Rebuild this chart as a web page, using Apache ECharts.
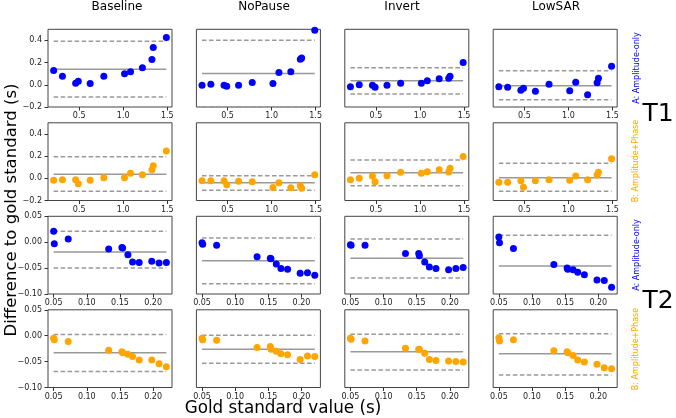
<!DOCTYPE html>
<html>
<head>
<meta charset="utf-8">
<title>Difference to gold standard</title>
<script src="https://cdn.jsdelivr.net/npm/echarts@6/dist/echarts.min.js"></script>
<style>
  html, body { margin: 0; padding: 0; background: #fff; }
  #chart { width: 676px; height: 418px; }
</style>
</head>
<body>
<div id="chart"></div>
<script>
// column titles
const methods = ["Baseline", "NoPause", "Invert", "LowSAR"];

// gold standard values (s)
const t1Gold = [0.21, 0.31, 0.46, 0.49, 0.625, 0.78, 1.015, 1.083, 1.218, 1.326, 1.341, 1.49];
const t2Gold = [0.050, 0.051, 0.072, 0.133, 0.153, 0.154, 0.162, 0.169, 0.179, 0.198, 0.209, 0.220];

// differences, one list per method (Baseline, NoPause, Invert, LowSAR)
const t1AmpOnly = [
  [0.129, 0.077, 0.013, 0.033, 0.011, 0.076, 0.099, 0.117, 0.153, 0.228, 0.336, 0.426],
  [-0.005, 0.004, -0.005, -0.014, -0.003, 0.021, 0.012, 0.111, 0.117, 0.231, 0.242, 0.491],
  [-0.018, 0.0, -0.003, -0.023, -0.005, 0.015, 0.013, 0.036, 0.054, 0.060, 0.078, 0.201],
  [-0.018, -0.023, -0.048, -0.030, -0.059, 0.005, -0.054, 0.022, -0.090, 0.018, 0.060, 0.168]
];
const t1AmpPhase = [
  [-0.018, -0.012, -0.012, -0.048, -0.018, 0.006, 0.006, 0.045, 0.033, 0.078, 0.114, 0.246],
  [-0.021, -0.021, -0.021, -0.059, -0.027, -0.032, -0.083, -0.039, -0.086, -0.066, -0.090, 0.031],
  [-0.012, 0.0, 0.021, -0.030, 0.024, 0.054, 0.045, 0.060, 0.078, 0.057, 0.090, 0.197],
  [-0.036, -0.036, -0.021, -0.081, -0.021, -0.012, -0.018, 0.021, -0.012, 0.030, 0.054, 0.177]
];
const t2AmpOnly = [
  [0.021, -0.003, 0.006, -0.013, -0.010, -0.011, -0.024, -0.038, -0.039, -0.037, -0.040, -0.039],
  [-0.001, -0.004, -0.006, -0.028, -0.031, -0.032, -0.042, -0.051, -0.052, -0.060, -0.059, -0.064],
  [-0.005, -0.006, -0.006, -0.022, -0.022, -0.026, -0.038, -0.048, -0.051, -0.053, -0.051, -0.049],
  [0.010, -0.001, -0.012, -0.043, -0.050, -0.052, -0.053, -0.058, -0.063, -0.073, -0.074, -0.087]
];
const t2AmpPhase = [
  [-0.005, -0.008, -0.011, -0.028, -0.031, -0.033, -0.036, -0.040, -0.047, -0.047, -0.054, -0.060],
  [-0.005, -0.008, -0.009, -0.023, -0.021, -0.026, -0.030, -0.035, -0.037, -0.046, -0.039, -0.040],
  [-0.005, -0.007, -0.010, -0.024, -0.026, -0.026, -0.034, -0.046, -0.048, -0.049, -0.050, -0.051],
  [-0.004, -0.010, -0.008, -0.029, -0.031, -0.033, -0.038, -0.047, -0.051, -0.055, -0.062, -0.064]
];

// mean difference and limits of agreement, row by row (T1 A, T1 B, T2 A, T2 B)
const meanDiff = [
  [0.141, 0.102, 0.036, -0.009],
  [0.036, -0.041, 0.051, 0.006],
  [-0.019, -0.036, -0.031, -0.046],
  [-0.033, -0.026, -0.031, -0.035]
];
const upperLoA = [
  [0.392, 0.401, 0.153, 0.126],
  [0.195, 0.024, 0.165, 0.135],
  [0.021, 0.008, 0.006, 0.0135],
  [0.0025, 0.001, 0.003, 0.004]
];
const lowerLoA = [
  [-0.110, -0.197, -0.083, -0.135],
  [-0.117, -0.108, -0.066, -0.117],
  [-0.050, -0.080, -0.069, -0.105],
  [-0.069, -0.053, -0.066, -0.076]
];

// tick labels
const t1XTicks = [0.5, 1.0, 1.5];
const t2XTicks = [0.05, 0.10, 0.15, 0.20];
const t1YTicks = [-0.2, 0.0, 0.2, 0.4];
const t2YTicks = [-0.10, -0.05, 0.00, 0.05];

const BLUE = "#0000ff";
const ORANGE = "#ffa500";
const FONT = "DejaVu Sans";

const lefts = [48, 196.4, 344.8, 493.2];
const tops = [29.3, 122.8, 216.3, 309.8];
const W = 124, H = 77.7;

const rows = [
  { gold: t1Gold, diffs: t1AmpOnly, color: BLUE, xr: [0.146, 1.554], yr: [-0.2, 0.5], xt: t1XTicks, yt: t1YTicks, xd: 1, yd: 1 },
  { gold: t1Gold, diffs: t1AmpPhase, color: ORANGE, xr: [0.146, 1.554], yr: [-0.2, 0.5], xt: t1XTicks, yt: t1YTicks, xd: 1, yd: 1 },
  { gold: t2Gold, diffs: t2AmpOnly, color: BLUE, xr: [0.0415, 0.2285], yr: [-0.10, 0.05], xt: t2XTicks, yt: t2YTicks, xd: 2, yd: 2 },
  { gold: t2Gold, diffs: t2AmpPhase, color: ORANGE, xr: [0.0415, 0.2285], yr: [-0.10, 0.05], xt: t2XTicks, yt: t2YTicks, xd: 2, yd: 2 }
];

const fmt = d => v => (v < -1e-9 ? "\u2212" : "") + Math.abs(v).toFixed(d);

const grids = [], xAxes = [], yAxes = [], series = [];

rows.forEach((r, ri) => {
  const xMin = Math.min(...r.gold), xMax = Math.max(...r.gold);
  methods.forEach((m, ci) => {
    const gi = ri * 4 + ci;
    grids.push({
      left: lefts[ci], top: tops[ri], width: W, height: H,
      show: true, borderColor: "#444", borderWidth: 1, backgroundColor: "rgba(0,0,0,0)"
    });
    xAxes.push({
      gridIndex: gi, type: "value", min: r.xr[0], max: r.xr[1], position: "bottom",
      axisLine: { show: false, onZero: false }, splitLine: { show: false },
      axisTick: { show: true, length: 3.5, lineStyle: { color: "#333" }, customValues: r.xt },
      axisLabel: {
        customValues: r.xt, formatter: fmt(r.xd), fontSize: 8, color: "#222", margin: 5, fontFamily: FONT,
        showMinLabel: true, showMaxLabel: true, hideOverlap: false
      }
    });
    yAxes.push({
      gridIndex: gi, type: "value", min: r.yr[0], max: r.yr[1], position: "left",
      axisLine: { show: false, onZero: false }, splitLine: { show: false },
      axisTick: { show: ci === 0, length: 3.5, lineStyle: { color: "#333" }, customValues: r.yt },
      axisLabel: {
        show: ci === 0, customValues: r.yt, formatter: fmt(r.yd), fontSize: 8, color: "#222", margin: 6, fontFamily: FONT,
        showMinLabel: true, showMaxLabel: true, hideOverlap: false
      }
    });
    [[upperLoA[ri][ci], [4.5, 2.5]], [lowerLoA[ri][ci], [4.5, 2.5]], [meanDiff[ri][ci], "solid"]].forEach(([v, t]) => {
      series.push({
        type: "line", xAxisIndex: gi, yAxisIndex: gi, silent: true, symbol: "none", z: 2,
        data: [[xMin, v], [xMax, v]],
        lineStyle: { color: "#999", width: 1.5, type: t }
      });
    });
    series.push({
      type: "scatter", xAxisIndex: gi, yAxisIndex: gi, silent: true, z: 3,
      symbolSize: 7, itemStyle: { color: r.color, opacity: 1 },
      data: r.gold.map((g, k) => [g, r.diffs[ci][k]])
    });
  });
});

const titleX = [117, 264, 402, 556];
const txt = (text, x, y, size, color, rot) => ({
  type: "text", x, y, rotation: rot || 0, silent: true,
  style: { text, fill: color || "#000", font: size + "px '" + FONT + "'", textAlign: "center", textVerticalAlign: "middle" }
});

const graphic = [
  ...methods.map((m, i) => txt(m, titleX[i], 7, 12)),
  txt("Difference to gold standard (s)", 12, 210, 16.5, "#000", Math.PI / 2),
  txt("Gold standard value (s)", 283, 409, 16.8),
  txt("T1", 658, 114, 25),
  txt("T2", 658, 301, 25),
  txt("A: Amplitude-only", 637, 68, 8, BLUE, Math.PI / 2),
  txt("B: Amplitude+Phase", 636, 161, 8, ORANGE, Math.PI / 2),
  txt("A: Amplitude-only", 637, 255, 8, BLUE, Math.PI / 2),
  txt("B: Amplitude+Phase", 636, 349, 8, ORANGE, Math.PI / 2)
];

const chart = echarts.init(document.getElementById("chart"), null, { renderer: "canvas" });
chart.setOption({
  animation: false,
  backgroundColor: "#fff",
  grid: grids,
  xAxis: xAxes,
  yAxis: yAxes,
  series,
  graphic
});
</script>
</body>
</html>
